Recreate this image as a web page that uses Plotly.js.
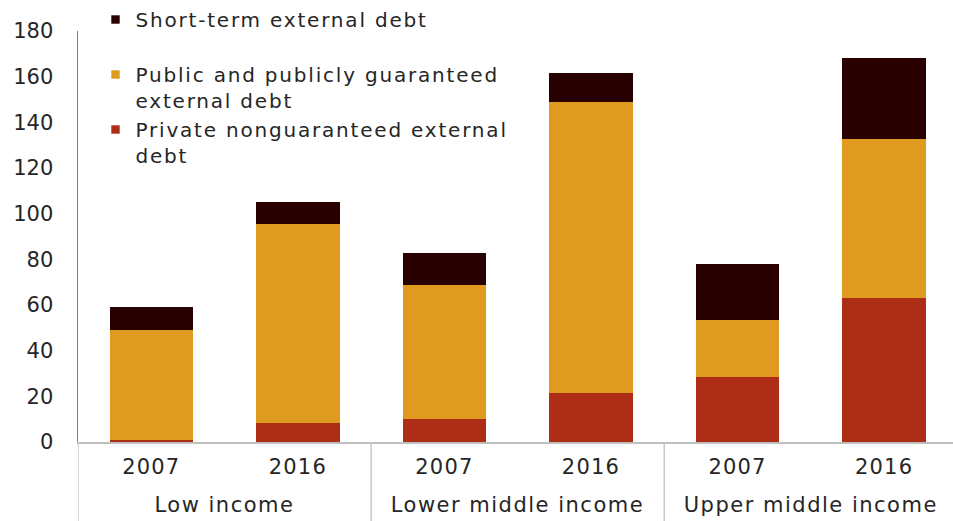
<!DOCTYPE html>
<html>
<head>
<meta charset="utf-8">
<script src="https://cdn.plot.ly/plotly-3.0.1.min.js"></script>
<style>
  html, body { margin: 0; padding: 0; background: #ffffff; }
  #chart { width: 953px; height: 521px; }
  /* slightly wider lettering for the legend and category labels */
  #chart .legendtext { letter-spacing: 1.8px; }
  #chart .legend .scrollbox { clip-path: none !important; }
  /* smaller square swatches in the legend (keeps Plotly's 20px offset) */
  #chart .legend .legendpoints path { transform: translate(20px, 0px) scale(0.7); }
  #chart .xtick text { letter-spacing: 1.2px; }
  #chart .annotation-text { letter-spacing: 1.5px; }
</style>
</head>
<body>
<div id="chart"></div>
<script>
// External debt by income group, 2007 vs 2016 (US$ billions)
const incomeGroups = ["Low income", "Low income", "Lower middle income", "Lower middle income", "Upper middle income", "Upper middle income"];
const years = ["2007", "2016", "2007", "2016", "2007", "2016"];

const privateDebt = [0.8, 8.2, 10.2, 21.3, 28.5, 63.0];
const publicDebt = [48.4, 87.3, 58.7, 127.4, 24.8, 69.7];
const shortTermDebt = [9.9, 9.5, 14.0, 12.8, 24.8, 35.6];

const seriesNames = [
  "Private nonguaranteed external<br>debt",
  "Public and publicly guaranteed<br>external debt",
  "Short-term external debt<br> "
];
const seriesColors = ["#ae2d16", "#df9a20", "#280000"];
const yTicks = [0, 20, 40, 60, 80, 100, 120, 140, 160, 180];

const FONT = "DejaVu Sans, Liberation Sans, Arial, sans-serif";
const TEXT = "#262626";

// one category per bar; the tick shows the year, the group name sits below
const barKeys = incomeGroups.map((g, i) => g + " " + years[i]);
const seriesValues = [privateDebt, publicDebt, shortTermDebt];

const traces = seriesValues.map((vals, i) => ({
  type: "bar",
  x: barKeys,
  y: vals,
  name: seriesNames[i],
  marker: { color: seriesColors[i], line: { width: 0 } },
  hoverinfo: "y+name"
}));

// group label positions and the dividers between groups
const groupNames = [...new Set(incomeGroups)];
const groupAnnotations = groupNames.map(name => {
  const idx = incomeGroups.map((g, i) => (g === name ? i : -1)).filter(i => i >= 0);
  const mid = idx.reduce((a, b) => a + b, 0) / idx.length;
  return {
    xref: "x", yref: "paper",
    x: mid, y: -0.153,
    xanchor: "center", yanchor: "middle",
    text: name, showarrow: false,
    font: { family: FONT, size: 21, color: TEXT }
  };
});
const dividerShapes = [];
incomeGroups.forEach((g, i) => {
  if (i === 0 || g !== incomeGroups[i - 1]) {
    dividerShapes.push({
      type: "line", xref: "x", yref: "paper",
      x0: i - 0.5, x1: i - 0.5, y0: 0, y1: -0.2,
      line: { color: "#c8c8c8", width: 1.5 }
    });
  }
});

const layout = {
  width: 953,
  height: 521,
  margin: { l: 78, r: 0, t: 30, b: 79 },
  paper_bgcolor: "#ffffff",
  plot_bgcolor: "#ffffff",
  font: { family: FONT, size: 21, color: TEXT },
  barmode: "stack",
  bargap: 0.43,
  showlegend: true,
  legend: {
    x: 0.02, xanchor: "left",
    y: 1.075, yanchor: "top",
    traceorder: "reversed",
    valign: "top",
    bgcolor: "rgba(0,0,0,0)",
    font: { family: FONT, size: 20, color: TEXT },
    itemwidth: 30
  },
  xaxis: {
    type: "category",
    range: [-0.5, 5.47],
    tickvals: barKeys,
    ticktext: years,
    showline: true,
    linecolor: "#bfbfbf",
    linewidth: 1.5,
    ticks: "",
    ticklabelstandoff: 5,
    showgrid: false,
    zeroline: false,
    tickfont: { family: FONT, size: 21, color: TEXT }
  },
  yaxis: {
    range: [0, 180],
    tickvals: yTicks,
    ticktext: yTicks.map(String),
    showline: true,
    linecolor: "#8c7a78",
    linewidth: 1.5,
    ticks: "",
    ticklabelstandoff: 19,
    showgrid: false,
    zeroline: false,
    tickfont: { family: FONT, size: 21, color: TEXT }
  },
  annotations: groupAnnotations,
  shapes: dividerShapes
};

Plotly.newPlot("chart", traces, layout, { displayModeBar: false, staticPlot: true });
</script>
</body>
</html>
